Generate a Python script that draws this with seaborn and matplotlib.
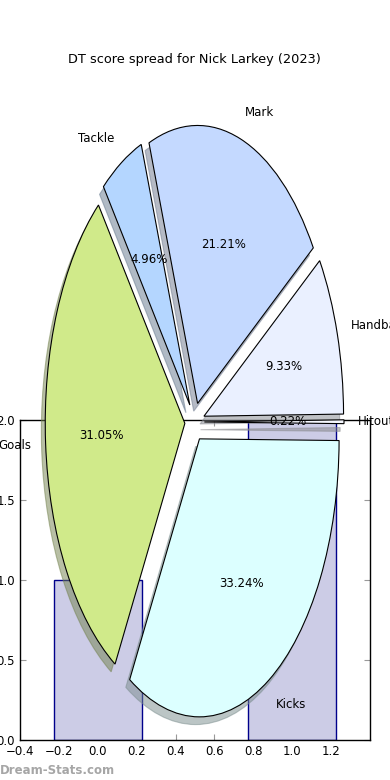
import matplotlib
matplotlib.use('Agg')
import matplotlib.pyplot as plt
import seaborn as sns

# pie data (share of DT score, %)
categories = ['Kicks', 'Hitout', 'Handball', 'Mark', 'Tackle', 'Goals']
shares = [33.24, 0.22, 9.33, 21.21, 4.96, 31.05]
slice_colors = ['#dcffff', '#f6f8ff', '#eaf0ff', '#c4d9ff', '#b4d6ff', '#d0ea8a']

# background bars
bar_x = [0, 1]
bar_heights = [1, 2]
x_ticks = [-0.4, -0.2, 0.0, 0.2, 0.4, 0.6, 0.8, 1.0, 1.2]
y_ticks = [0.0, 0.5, 1.0, 1.5, 2.0]

sns.set_style('white')
plt.rcParams.update({
    'font.family': ['DejaVu Sans'],
    'font.size': 8.5,
    'text.color': 'black',
    'xtick.color': 'black',
    'ytick.color': 'black',
    'xtick.direction': 'in',
    'ytick.direction': 'in',
    'xtick.top': True,
    'ytick.right': True,
    'xtick.bottom': True,
    'ytick.left': True,
    'xtick.major.size': 4,
    'ytick.major.size': 4,
    'axes.edgecolor': 'black',
    'axes.linewidth': 1.0,
})

fig = plt.figure(figsize=(3.9, 7.8), dpi=100)

# bar axes underneath
ax_bar = fig.add_axes([0.0513, 0.0513, 0.8974, 0.4103])
sns.barplot(x=bar_x, y=bar_heights, ax=ax_bar, color='#ccccE6', saturation=1,
            edgecolor='#00008b', linewidth=1.0, width=0.45, native_scale=True)
ax_bar.set_xlim(-0.4, 1.4)
ax_bar.set_ylim(0, 2.0)
ax_bar.set_xticks(x_ticks)
ax_bar.set_xticklabels(['\u22120.4', '\u22120.2', '0.0', '0.2', '0.4', '0.6', '0.8', '1.0', '1.2'])
ax_bar.set_yticks(y_ticks)
ax_bar.set_yticklabels(['0.0', '0.5', '1.0', '1.5', '2.0'])
ax_bar.tick_params(labelsize=8.5, width=0.8, color='#999999', labelcolor='black')
ax_bar.set_xlabel('')
ax_bar.set_ylabel('')
for s in ax_bar.spines.values():
    s.set_visible(True)

# pie on top, transparent, not aspect-equal
ax_pie = fig.add_axes([0.0515, 0.0135, 0.895, 0.891])
ax_pie.patch.set_alpha(0)
ax_pie.pie(shares, labels=categories, colors=slice_colors, explode=[0.07] * 6,
           autopct='%1.2f%%', startangle=-120, shadow={'shade': 0.45},
           wedgeprops={'edgecolor': 'black', 'linewidth': 0.8},
           textprops={'fontsize': 8.5, 'color': 'black'})
ax_pie.set_aspect('auto')
ax_pie.set_xlim(-1.25, 1.25)
ax_pie.set_ylim(-1.25, 1.25)
ax_pie.set_title('DT score spread for Nick Larkey (2023)', fontsize=9.3, pad=8,
                 color='black')

fig.text(0.0, 0.008, 'Dream-Stats.com', color='#a6a6a6', fontsize=8.5, fontweight='bold')

fig.savefig('out.png', dpi=100)
